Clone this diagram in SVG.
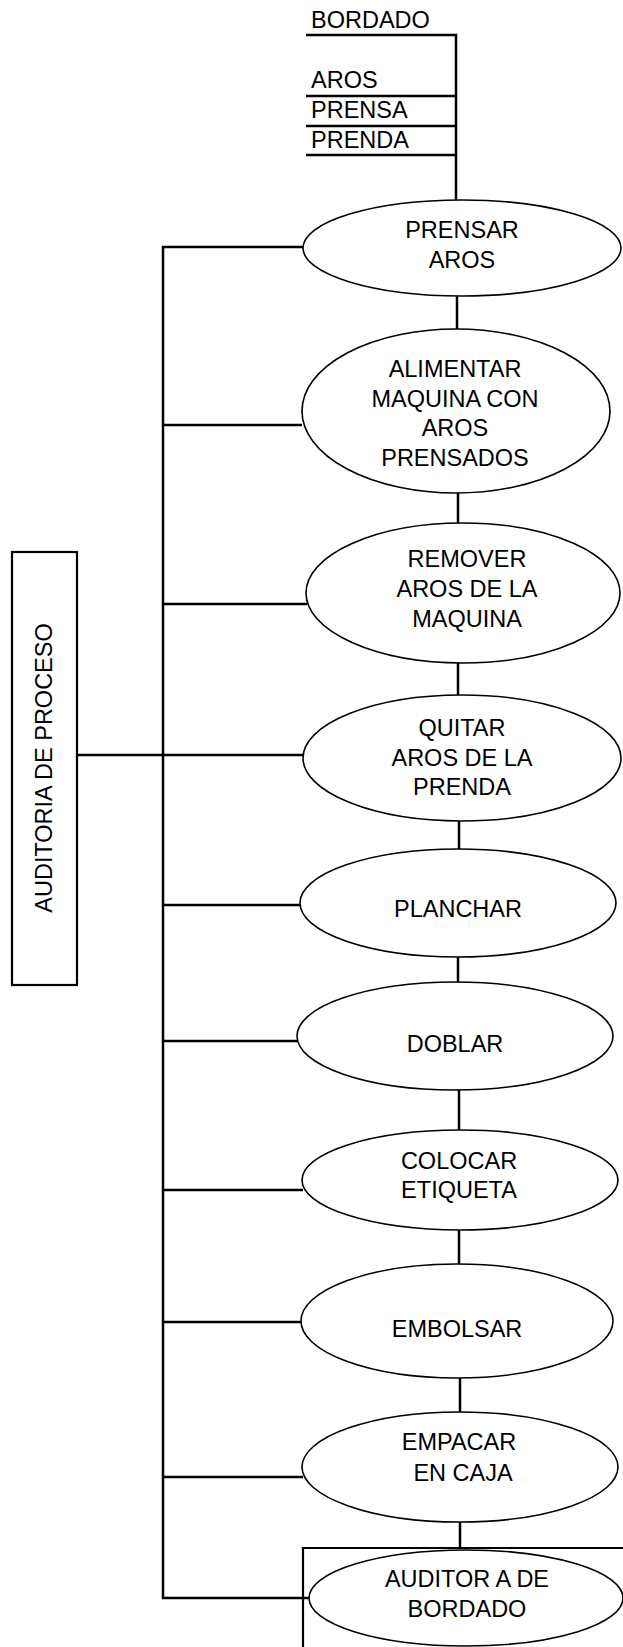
<svg xmlns="http://www.w3.org/2000/svg" width="623" height="1647" viewBox="0 0 623 1647">
<style>
  .n ellipse { fill: #fff; stroke: #000; stroke-width: 1.6; }
  .n text, .lbl { font-family: "Liberation Sans", Arial, sans-serif; font-size: 23.5px; fill: #000; text-anchor: middle; }
  .lbl { text-anchor: start; }
  .c path { fill: none; stroke: #000; stroke-width: 2.5; }
  .box { fill: none; stroke: #000; stroke-width: 2.2; }
</style>
<rect width="623" height="1647" fill="#fff"/>
<g class="c" id="connectors">
  <path d="M306 35 H456 V200"/>
  <path d="M306 96 H456"/>
  <path d="M306 126 H456"/>
  <path d="M306 155 H456"/>
  <path d="M457 296 V329"/>
  <path d="M458 493 V523"/>
  <path d="M458 663 V695"/>
  <path d="M459 821 V849"/>
  <path d="M458 957 V982"/>
  <path d="M459 1090 V1130"/>
  <path d="M459 1230 V1265"/>
  <path d="M460 1378 V1412"/>
  <path d="M460 1522 V1548"/>
  <path d="M303 247 H163 V1598 H311"/>
  <path d="M163 425 H302"/>
  <path d="M163 604 H307"/>
  <path d="M77 755 H304"/>
  <path d="M163 905 H301"/>
  <path d="M163 1041 H298"/>
  <path d="M163 1190 H303"/>
  <path d="M163 1322 H302"/>
  <path d="M163 1477 H303"/>
</g>
<g id="inputs">
  <text class="lbl" x="311" y="28">BORDADO</text>
  <text class="lbl" x="311" y="88">AROS</text>
  <text class="lbl" x="311" y="118">PRENSA</text>
  <text class="lbl" x="311" y="148">PRENDA</text>
</g>
<g id="auditoria-proceso">
  <rect class="box" x="12" y="552" width="65" height="433"/>
  <text class="lbl" style="text-anchor:middle" transform="translate(52 768) rotate(-90)">AUDITORIA DE PROCESO</text>
</g>
<g id="auditoria-bordado-box">
  <path class="box" d="M303 1647 V1548 H623"/>
</g>
<g class="n" id="n1">
  <ellipse cx="462" cy="248" rx="159" ry="48"/>
  <text x="462" y="238">PRENSAR</text>
  <text x="462" y="268">AROS</text>
</g>
<g class="n" id="n2">
  <ellipse cx="456" cy="411" rx="154" ry="82"/>
  <text x="455" y="377">ALIMENTAR</text>
  <text x="455" y="407">MAQUINA CON</text>
  <text x="455" y="436">AROS</text>
  <text x="455" y="466">PRENSADOS</text>
</g>
<g class="n" id="n3">
  <ellipse cx="463" cy="593" rx="157" ry="70"/>
  <text x="467" y="567">REMOVER</text>
  <text x="467" y="597">AROS DE LA</text>
  <text x="467" y="627">MAQUINA</text>
</g>
<g class="n" id="n4">
  <ellipse cx="462" cy="758" rx="159" ry="63"/>
  <text x="462" y="736">QUITAR</text>
  <text x="462" y="766">AROS DE LA</text>
  <text x="462" y="795">PRENDA</text>
</g>
<g class="n" id="n5">
  <ellipse cx="458" cy="903" rx="158" ry="54"/>
  <text x="458" y="917">PLANCHAR</text>
</g>
<g class="n" id="n6">
  <ellipse cx="455" cy="1036" rx="158" ry="54"/>
  <text x="455" y="1052">DOBLAR</text>
</g>
<g class="n" id="n7">
  <ellipse cx="460" cy="1180" rx="158" ry="50"/>
  <text x="459" y="1169">COLOCAR</text>
  <text x="459" y="1198">ETIQUETA</text>
</g>
<g class="n" id="n8">
  <ellipse cx="457" cy="1321" rx="156" ry="57"/>
  <text x="457" y="1337">EMBOLSAR</text>
</g>
<g class="n" id="n9">
  <ellipse cx="460" cy="1467" rx="158" ry="55"/>
  <text x="459" y="1450">EMPACAR</text>
  <text x="463" y="1481">EN CAJA</text>
</g>
<g class="n" id="n10">
  <ellipse cx="466" cy="1598" rx="157" ry="48"/>
  <text x="467" y="1587">AUDITOR A DE</text>
  <text x="467" y="1617">BORDADO</text>
</g>
</svg>
